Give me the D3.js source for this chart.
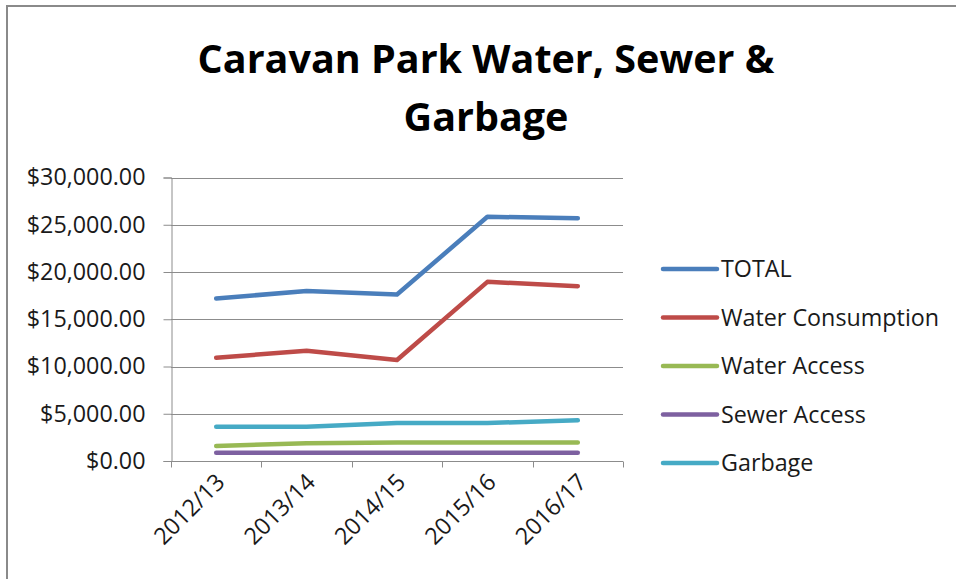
<!DOCTYPE html>
<html>
<head>
<meta charset="utf-8">
<script src="https://cdn.jsdelivr.net/npm/d3@7"></script>
<style>
  html, body { margin: 0; padding: 0; background: #fff; }
  svg { display: block; font-family: "Open Sans", "Liberation Sans", sans-serif; }
</style>
</head>
<body>
<div id="chart"></div>
<script>
// --- data ---
const years = ["2012/13", "2013/14", "2014/15", "2015/16", "2016/17"];
const total            = [17200, 17980, 17620, 25840, 25700];
const waterConsumption = [10930, 11670, 10680, 18960, 18500];
const waterAccess      = [1590, 1870, 1970, 1970, 1970];
const sewerAccess      = [880, 880, 880, 880, 880];
const garbage          = [3630, 3630, 4020, 4020, 4300];
const yTicks = [0, 5000, 10000, 15000, 20000, 25000, 30000];

const seriesNames  = ["TOTAL", "Water Consumption", "Water Access", "Sewer Access", "Garbage"];
const seriesValues = [total, waterConsumption, waterAccess, sewerAccess, garbage];
const seriesColors = ["#4A7EBB", "#BE4B48", "#98B954", "#7D60A0", "#46AAC5"];

// --- dimensions ---
const width = 956, height = 579;
const plot = { left: 171, right: 623, top: 177.5, bottom: 461 };
const textColor = "#1a1a1a";
const gridColor = "#8c8c8c";
const labelSize = "23.3px";

const svg = d3.select("#chart").append("svg")
  .attr("width", width)
  .attr("height", height);

// chart frame (only top + left edges are visible in the crop)
svg.append("path")
  .attr("d", `M7,${height} V6 H${width}`)
  .attr("fill", "none")
  .attr("stroke", "#8a8a8a")
  .attr("stroke-width", 2);

// --- title ---
const title = svg.append("text")
  .attr("text-anchor", "middle")
  .attr("fill", "#000")
  .style("font-weight", 700)
  .style("font-size", "39.5px");
title.append("tspan").attr("x", 486).attr("y", 73).text("Caravan Park Water, Sewer &");
title.append("tspan").attr("x", 486).attr("y", 131).text("Garbage");

// --- scales ---
const x = d3.scaleBand().domain(years).range([plot.left, plot.right]);
const y = d3.scaleLinear().domain([0, 30000]).range([plot.bottom, plot.top]);
const fmt = d3.format("$,.2f");

// gridlines
svg.append("g")
  .selectAll("line")
  .data(yTicks)
  .join("line")
  .attr("x1", plot.left).attr("x2", plot.right)
  .attr("y1", d => Math.round(y(d)) + 0.5).attr("y2", d => Math.round(y(d)) + 0.5)
  .attr("stroke", gridColor);

// y axis
const yAxis = svg.append("g")
  .attr("transform", `translate(${plot.left + 0.5},0)`)
  .call(d3.axisLeft(y).tickValues(yTicks).tickFormat(fmt).tickSize(8).tickPadding(18));
yAxis.select(".domain").attr("stroke", gridColor);
yAxis.selectAll(".tick line").attr("stroke", gridColor);
yAxis.selectAll(".tick text")
  .attr("fill", textColor)
  .style("font-size", labelSize)
  .style("font-family", "'Open Sans', sans-serif");

// x axis: ticks at the band edges, labels at band centres
const xAxis = svg.append("g").attr("transform", `translate(0,${Math.round(plot.bottom) + 0.5})`);
xAxis.append("line")
  .attr("x1", plot.left).attr("x2", plot.right)
  .attr("stroke", gridColor);
xAxis.selectAll("line.tick")
  .data(years.concat(["end"]))
  .join("line")
  .attr("class", "tick")
  .attr("x1", (d, i) => Math.round(i < years.length ? x(d) : x.range()[1]) + 0.5)
  .attr("x2", (d, i) => Math.round(i < years.length ? x(d) : x.range()[1]) + 0.5)
  .attr("y1", 0).attr("y2", 6)
  .attr("stroke", gridColor);
xAxis.selectAll("text")
  .data(years)
  .join("text")
  .attr("transform", d => `translate(${x(d) + x.bandwidth() / 2 + 10},${22}) rotate(-45)`)
  .attr("text-anchor", "end")
  .attr("fill", textColor)
  .style("font-size", labelSize)
  .text(d => d);

// --- lines ---
const line = d3.line()
  .x((d, i) => x(years[i]) + x.bandwidth() / 2)
  .y(d => y(d));

svg.append("g")
  .selectAll("path")
  .data(seriesValues)
  .join("path")
  .attr("d", line)
  .attr("fill", "none")
  .attr("stroke", (d, i) => seriesColors[i])
  .attr("stroke-width", 4.5)
  .attr("stroke-linecap", "round")
  .attr("stroke-linejoin", "round");

// --- legend ---
const legend = svg.append("g").attr("transform", "translate(663,269)");
const item = legend.selectAll("g")
  .data(seriesNames)
  .join("g")
  .attr("transform", (d, i) => `translate(0,${i * 48.5})`);
item.append("line")
  .attr("x1", 0).attr("x2", 54)
  .attr("stroke", (d, i) => seriesColors[i])
  .attr("stroke-width", 4.5)
  .attr("stroke-linecap", "round");
item.append("text")
  .attr("x", 58)
  .attr("dy", "0.36em")
  .attr("fill", textColor)
  .style("font-size", labelSize)
  .text(d => d);
</script>
</body>
</html>
